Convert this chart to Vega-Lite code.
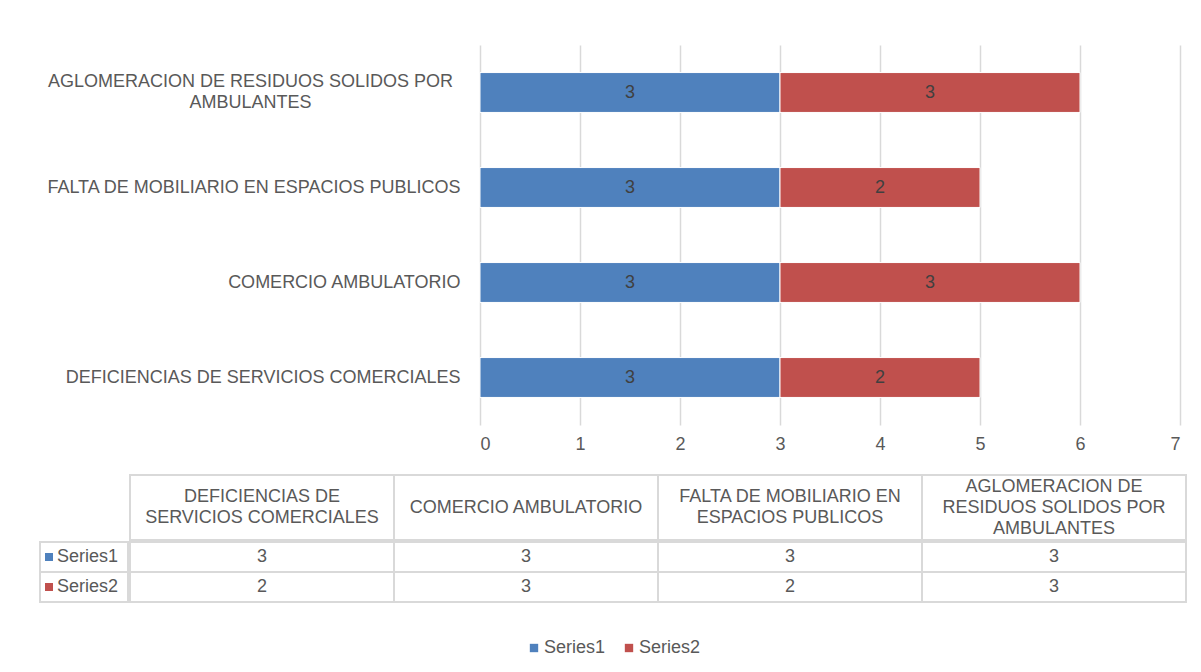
{
  "$schema": "https://vega.github.io/schema/vega-lite/v6.json",
  "padding": {"left": 39, "top": 45, "right": 5, "bottom": 5},
  "background": "white",
  "config": {
    "view": {"stroke": null},
    "font": "Liberation Sans",
    "axis": {"labelFont": "Liberation Sans", "labelColor": "#595959", "labelFontSize": 18},
    "legend": {"labelFont": "Liberation Sans"},
    "text": {"font": "Liberation Sans"}
  },
  "datasets": {
    "d": [
      {"cat": "DEFICIENCIAS DE SERVICIOS COMERCIALES", "series": "Series1", "value": 3},
      {"cat": "DEFICIENCIAS DE SERVICIOS COMERCIALES", "series": "Series2", "value": 2},
      {"cat": "COMERCIO AMBULATORIO", "series": "Series1", "value": 3},
      {"cat": "COMERCIO AMBULATORIO", "series": "Series2", "value": 3},
      {"cat": "FALTA DE MOBILIARIO EN ESPACIOS PUBLICOS", "series": "Series1", "value": 3},
      {"cat": "FALTA DE MOBILIARIO EN ESPACIOS PUBLICOS", "series": "Series2", "value": 2},
      {"cat": "AGLOMERACION DE RESIDUOS SOLIDOS POR AMBULANTES", "series": "Series1", "value": 3},
      {"cat": "AGLOMERACION DE RESIDUOS SOLIDOS POR AMBULANTES", "series": "Series2", "value": 3}
    ],
    "cols": [
      {"cat": "DEFICIENCIAS DE SERVICIOS COMERCIALES", "label": "DEFICIENCIAS DE\nSERVICIOS COMERCIALES", "ylab": "DEFICIENCIAS DE SERVICIOS COMERCIALES"},
      {"cat": "COMERCIO AMBULATORIO", "label": "COMERCIO AMBULATORIO", "ylab": "COMERCIO AMBULATORIO"},
      {"cat": "FALTA DE MOBILIARIO EN ESPACIOS PUBLICOS", "label": "FALTA DE MOBILIARIO EN\nESPACIOS PUBLICOS", "ylab": "FALTA DE MOBILIARIO EN ESPACIOS PUBLICOS"},
      {"cat": "AGLOMERACION DE RESIDUOS SOLIDOS POR AMBULANTES", "label": "AGLOMERACION DE\nRESIDUOS SOLIDOS POR\nAMBULANTES", "ylab": "AGLOMERACION DE RESIDUOS SOLIDOS POR\nAMBULANTES"}
    ]
  },
  "spacing": 21,
  "vconcat": [
    {
      "spacing": 0,
      "hconcat": [
        {
          "width": 439,
          "height": 380,
          "data": {"name": "cols"},
          "mark": {
            "type": "text", "fontSize": 18, "color": "#595959", "lineBreak": "\n", "lineHeight": 21,
            "align": {"expr": "indexof(datum.ylab, '\\n') >= 0 ? 'center' : 'right'"},
            "dx": {"expr": "indexof(datum.ylab, '\\n') >= 0 ? -9 : 201"},
            "dy": {"expr": "indexof(datum.ylab, '\\n') >= 0 ? -10.5 : 0"}
          },
          "encoding": {
            "y": {
              "field": "cat", "type": "nominal",
              "sort": ["AGLOMERACION DE RESIDUOS SOLIDOS POR AMBULANTES", "FALTA DE MOBILIARIO EN ESPACIOS PUBLICOS", "COMERCIO AMBULATORIO", "DEFICIENCIAS DE SERVICIOS COMERCIALES"],
              "scale": {"paddingInner": 0.58, "paddingOuter": 0.29},
              "axis": null
            },
            "text": {"field": "ylab", "type": "nominal"}
          }
        },
        {
          "width": 700,
          "height": 380,
          "data": {"name": "d"},
          "encoding": {
            "y": {
              "field": "cat",
              "type": "nominal",
              "sort": ["AGLOMERACION DE RESIDUOS SOLIDOS POR AMBULANTES", "FALTA DE MOBILIARIO EN ESPACIOS PUBLICOS", "COMERCIO AMBULATORIO", "DEFICIENCIAS DE SERVICIOS COMERCIALES"],
              "scale": {"paddingInner": 0.58, "paddingOuter": 0.29},
              "axis": null
            }
          },
          "layer": [
            {
              "mark": {"type": "bar", "stroke": "white", "strokeWidth": 1},
              "encoding": {
                "x": {
                  "field": "value", "type": "quantitative", "stack": "zero",
                  "scale": {"domain": [0, 7]},
                  "axis": {"title": null, "domain": false, "ticks": false, "grid": true, "gridColor": "#D9D9D9", "gridWidth": 1.5, "values": [0, 1, 2, 3, 4, 5, 6, 7], "format": "d", "labelPadding": 10}
                },
                "color": {
                  "field": "series", "type": "nominal",
                  "scale": {"domain": ["Series1", "Series2"], "range": ["#4F81BD", "#C0504D"]},
                  "legend": {"orient": "none", "direction": "horizontal", "legendX": 485, "legendY": 594, "title": null, "symbolType": "square", "symbolSize": 70, "symbolStrokeWidth": 0, "labelFontSize": 18, "labelColor": "#595959", "columnPadding": 14, "labelOffset": 1}
                },
                "order": {"field": "series", "sort": "ascending"}
              }
            },
            {
              "mark": {"type": "text", "fontSize": 18, "color": "#404040"},
              "encoding": {
                "x": {"field": "value", "type": "quantitative", "stack": "zero", "bandPosition": 0.5},
                "detail": {"field": "series"},
                "order": {"field": "series", "sort": "ascending"},
                "text": {"field": "value", "type": "quantitative"}
              }
            }
          ]
        }
      ]
    },
    {
      "spacing": 0,
      "vconcat": [
        {
          "spacing": 0,
          "hconcat": [
            {
              "width": 88,
              "height": 65,
              "data": {"name": "cols"},
              "transform": [{"aggregate": [{"op": "count", "as": "n"}]}],
              "mark": {"type": "rect", "fill": "white", "stroke": "white", "strokeWidth": 2}
            },
            {
              "width": 1056,
              "height": 65,
              "data": {"name": "cols"},
              "encoding": {
                "x": {
                  "field": "cat", "type": "nominal",
                  "sort": ["DEFICIENCIAS DE SERVICIOS COMERCIALES", "COMERCIO AMBULATORIO", "FALTA DE MOBILIARIO EN ESPACIOS PUBLICOS", "AGLOMERACION DE RESIDUOS SOLIDOS POR AMBULANTES"],
                  "scale": {"paddingInner": 0, "paddingOuter": 0},
                  "axis": null
                }
              },
              "layer": [
                {"mark": {"type": "rect", "fill": "white", "stroke": "#D9D9D9", "strokeWidth": 2}},
                {
                  "mark": {"type": "text", "fontSize": 18, "color": "#595959", "lineBreak": "\n", "lineHeight": 21, "dy": {"expr": "-(length(split(datum.label, '\\n')) - 1) * 10.5"}},
                  "encoding": {"text": {"field": "label", "type": "nominal"}}
                }
              ]
            }
          ]
        },
        {
          "spacing": 0,
          "hconcat": [
            {
              "width": 88,
              "height": 60,
              "data": {"name": "d"},
              "transform": [{"aggregate": [{"op": "count", "as": "n"}], "groupby": ["series"]}],
              "encoding": {
                "y": {"field": "series", "type": "nominal", "scale": {"paddingInner": 0, "paddingOuter": 0}, "axis": null}
              },
              "layer": [
                {"mark": {"type": "rect", "fill": "white", "stroke": "#D9D9D9", "strokeWidth": 2}},
                {
                  "mark": {"type": "square", "size": 64, "opacity": 1, "xOffset": -35},
                  "encoding": {"color": {"field": "series", "type": "nominal", "legend": null}}
                },
                {
                  "mark": {"type": "text", "fontSize": 18, "color": "#595959", "align": "left", "dx": -27},
                  "encoding": {"text": {"field": "series", "type": "nominal"}}
                }
              ]
            },
            {
              "width": 1056,
              "height": 60,
              "data": {"name": "d"},
              "encoding": {
                "x": {
                  "field": "cat", "type": "nominal",
                  "sort": ["DEFICIENCIAS DE SERVICIOS COMERCIALES", "COMERCIO AMBULATORIO", "FALTA DE MOBILIARIO EN ESPACIOS PUBLICOS", "AGLOMERACION DE RESIDUOS SOLIDOS POR AMBULANTES"],
                  "scale": {"paddingInner": 0, "paddingOuter": 0},
                  "axis": null
                },
                "y": {"field": "series", "type": "nominal", "scale": {"paddingInner": 0, "paddingOuter": 0}, "axis": null}
              },
              "layer": [
                {"mark": {"type": "rect", "fill": "white", "stroke": "#D9D9D9", "strokeWidth": 2}},
                {
                  "mark": {"type": "text", "fontSize": 18, "color": "#595959"},
                  "encoding": {"text": {"field": "value", "type": "quantitative"}}
                }
              ]
            }
          ]
        }
      ]
    }
  ]
}
